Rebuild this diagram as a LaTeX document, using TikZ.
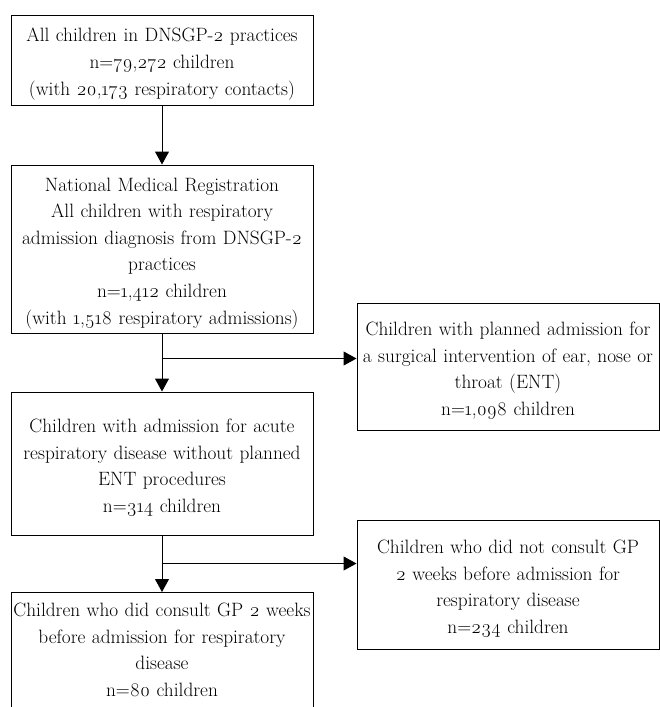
\documentclass[tikz,border=0pt]{standalone}
\usepackage{fontspec}
\setmainfont{Latin Modern Roman}[Numbers=OldStyle]
\usetikzlibrary{arrows.meta,calc,positioning}
\tikzset{
        block/.style = {draw, rectangle, line width=1pt,
            text width=298pt, inner sep=2pt, align=center,
            execute at begin node={\rule{0pt}{22pt}},
            font=\fontsize{19.3}{26.6}\selectfont},
        arrow/.style={draw, line width=1pt, -{Triangle[length=13pt,width=14pt]}},
    }

\begin{document}
\begin{tikzpicture}[x=1pt,y=-1pt]
    \useasboundingbox (0,0) rectangle (660,707);

    \node[block, minimum height=90pt] (all) at (162,60)
        {All children in DNSGP-2 practices\\ n=79,272 children\\ (with 20,173 respiratory contacts)};
    \node[block, minimum height=168pt] (nmr) at (162,249)
        {National Medical Registration\\ All children with respiratory\\ admission diagnosis from DNSGP-2\\ practices\\ n=1,412 children\\ (with 1,518 respiratory admissions)};
    \node[block, minimum height=127pt] (ent) at (508,366.5)
        {Children with planned admission for\\ a surgical intervention of ear, nose or\\ throat (ENT)\\ n=1,098 children};
    \node[block, minimum height=143pt] (acute) at (162,463.5)
        {Children with admission for acute\\ respiratory disease without planned\\ ENT procedures\\ n=314 children};
    \node[block, minimum height=129pt] (nogp) at (508,584.5)
        {Children who did not consult GP\\ 2 weeks before admission for\\ respiratory disease\\ n=234 children};
    \node[block, anchor=north, execute at begin node={}] (gp) at (162,592)
        {\parbox[t][140pt][t]{298pt}{\centering\rule{0pt}{19pt}Children who did consult GP 2 weeks\\ before admission for respiratory\\ disease\\ n=80 children}};

    %% splits
    \coordinate (split1) at ($(nmr.south)+(0,25)$);
    \coordinate (split2) at ($(acute.south)+(0,28)$);

    \draw[arrow] (all) -- (nmr);
    \draw[arrow] (nmr) -- (acute);
    \draw[arrow] (split1) -- (split1 -| ent.west);
    \draw[arrow] (acute) -- (gp);
    \draw[arrow] (split2) -- (split2 -| nogp.west);
\end{tikzpicture}
\end{document}
